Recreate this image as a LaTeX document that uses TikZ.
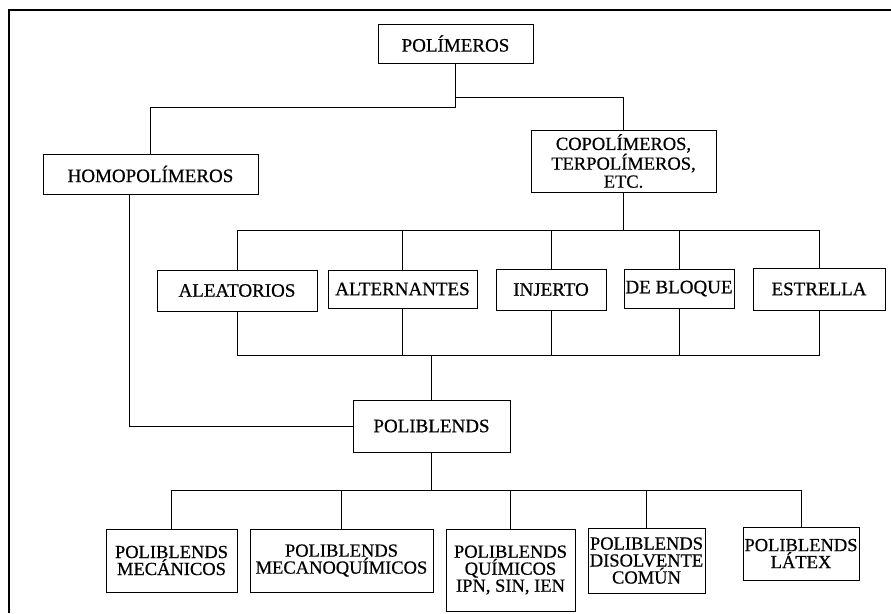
\documentclass[tikz,border=0pt]{standalone}
\usepackage{fontspec}
\setmainfont{Liberation Serif}[FakeBold=0.6]
\begin{document}
\begin{tikzpicture}[x=1pt,y=-1pt,
  box/.style={draw, line width=0.8pt, inner sep=0pt, align=center, font=\fontsize{19}{18}\selectfont},
  mbox/.style={box, font=\fontsize{18.5}{17}\selectfont},
  conn/.style={line width=0.8pt}]
\useasboundingbox (0,0) rectangle (891,613);
\draw[line width=2pt] (9,613) -- (9,10) -- (891,10);

\node[box, minimum width=155pt, minimum height=39pt] (pol) at (455.5,43.5) {POLÍMEROS};
\node[box, minimum width=215pt, minimum height=40pt] (homo) at (150.5,174) {HOMOPOLÍMEROS};
\node[box, minimum width=185pt, minimum height=62pt, font=\fontsize{18.5}{18}\selectfont] (copo) at (623.5,161) {COPOLÍMEROS,\\TERPOLÍMEROS,\\ETC.};

\node[box, minimum width=160pt, minimum height=41pt] (alea) at (237,290.5) {ALEATORIOS};
\node[box, minimum width=149pt, minimum height=38pt] (alte) at (402.5,289) {ALTERNANTES};
\node[box, minimum width=110pt, minimum height=41pt] (inje) at (551,289.5) {INJERTO};
\node[box, minimum width=110pt, minimum height=39pt] (debl) at (679,288.5) {DE BLOQUE};
\node[box, minimum width=132pt, minimum height=42pt] (estr) at (819,289) {ESTRELLA};

\node[box, minimum width=157pt, minimum height=52pt] (polib) at (431.5,426) {POLIBLENDS};

\node[mbox, minimum width=131pt, minimum height=63pt] (mec) at (171.5,560.5) {POLIBLENDS\\MECÁNICOS};
\node[mbox, minimum width=183pt, minimum height=63pt] (mecq) at (341.5,560.5) {POLIBLENDS\\MECANOQUÍMICOS};
\node[mbox, minimum width=129pt, minimum height=82pt] (quim) at (510.5,570) {POLIBLENDS\\QUÍMICOS\\IPN, SIN, IEN};
\node[mbox, minimum width=117pt, minimum height=65pt] (diso) at (646.5,560.5) {POLIBLENDS\\DISOLVENTE\\COMÚN};
\node[mbox, minimum width=116pt, minimum height=53pt] (latex) at (801,553.5) {POLIBLENDS\\LÁTEX};

\coordinate (b0l) at (0,107);
\coordinate (b0r) at (0,97);
\coordinate (b1) at (0,230);
\coordinate (b2) at (0,355);
\coordinate (b3) at (0,490);

% level 1
\draw[conn] (pol.south) -- (pol.south |- b0l) -| (homo.north);
\draw[conn] (pol.south |- b0r) -| (copo.north);

% copolymer bus
\draw[conn] (copo.south) -- (copo.south |- b1);
\draw[conn] (alea.north) |- (b1 -| estr.north) -- (estr.north);
\draw[conn] (alte.north) -- (alte.north |- b1);
\draw[conn] (inje.north) -- (inje.north |- b1);
\draw[conn] (debl.north) -- (debl.north |- b1);

% lower bus
\draw[conn] (alea.south) |- (b2 -| estr.south) -- (estr.south);
\draw[conn] (alte.south) -- (alte.south |- b2);
\draw[conn] (inje.south) -- (inje.south |- b2);
\draw[conn] (debl.south) -- (debl.south |- b2);
\draw[conn] (polib.north) -- (polib.north |- b2);

% homopolymer to poliblends
\draw[conn] ([xshift=-21pt]homo.south) |- (polib.west);

% poliblends bus
\draw[conn] (polib.south) -- (polib.south |- b3);
\draw[conn] (mec.north) |- (b3 -| latex.north) -- (latex.north);
\draw[conn] (mecq.north) -- (mecq.north |- b3);
\draw[conn] (quim.north) -- (quim.north |- b3);
\draw[conn] (diso.north) -- (diso.north |- b3);
\end{tikzpicture}
\end{document}
